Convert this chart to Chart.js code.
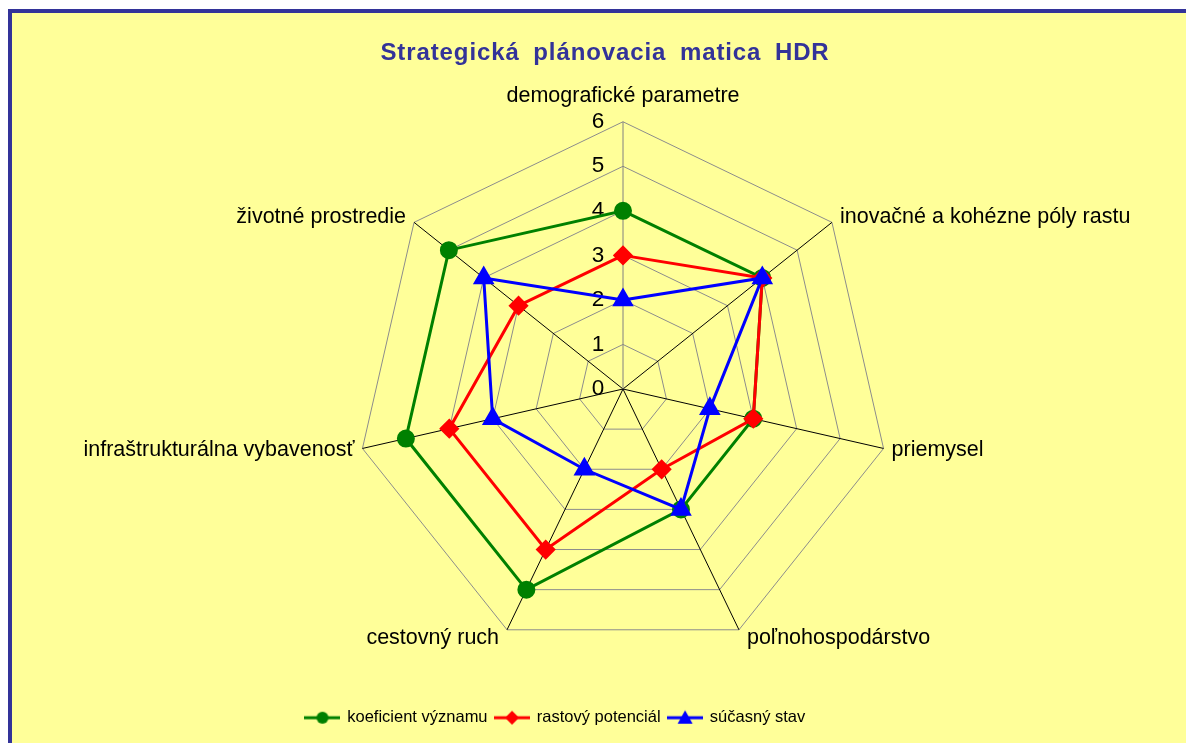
<!DOCTYPE html>
<html>
<head>
<meta charset="utf-8">
<script src="https://cdn.jsdelivr.net/npm/chart.js@4"></script>
<style>
  body { margin: 0; background: #fff; overflow: hidden; }
  #box {
    position: absolute; left: 8px; top: 9px;
    width: 1200px; height: 760px;
    border-left: 4px solid #333399; border-top: 4px solid #333399;
    background: #FFFF99;
  }
  #wrap { position: absolute; left: 0; top: 0; width: 1174px; height: 730px; }
</style>
</head>
<body>
<div id="box"><div id="wrap"><canvas id="radarChart"></canvas></div></div>
<script>
// kategórie (osi)
const kategorie = [
    'demografické parametre',
    'inovačné a kohézne póly rastu',
    'priemysel',
    'poľnohospodárstvo',
    'cestovný ruch',
    'infraštrukturálna vybavenosť',
    'životné prostredie'
];
// hodnoty sérií
const koeficientVyznamu = [4, 4, 3, 3, 5, 5, 5];
const rastovyPotencial = [3, 4, 3, 2, 4, 4, 3];
const sucasnyStav = [2, 4, 2, 3, 2, 3, 4];
const nazvySerii = ['koeficient významu', 'rastový potenciál', 'súčasný stav'];
const nadpis = 'Strategická plánovacia matica HDR';

const fontFamily = '"Liberation Sans", Arial, sans-serif';
const velkostPopisku = 21.5;

// ikona legendy: čiara so značkou
function legendIcon(color, shape) {
    const c = document.createElement('canvas');
    c.width = 36; c.height = 18;
    const g = c.getContext('2d');
    g.strokeStyle = color; g.fillStyle = color; g.lineWidth = 3;
    g.beginPath(); g.moveTo(0, 9); g.lineTo(36, 9); g.stroke();
    g.beginPath();
    if (shape === 'circle') {
        g.arc(18, 9, 6, 0, Math.PI * 2);
    } else if (shape === 'diamond') {
        g.moveTo(18, 2); g.lineTo(25, 9); g.lineTo(18, 16); g.lineTo(11, 9);
    } else {
        g.moveTo(18, 1.5); g.lineTo(25.5, 15); g.lineTo(10.5, 15);
    }
    g.closePath(); g.fill();
    return c;
}

const ikony = [
    legendIcon('#008000', 'circle'),
    legendIcon('#FF0000', 'diamond'),
    legendIcon('#0000FF', 'triangle')
];

// popisky osí umiestnené ako v Exceli (vedľa vrcholu, zvislo na stred)
const popiskyPlugin = {
    id: 'popisky',
    afterLayout(chart) {
        const scale = chart.scales.r;
        const items = scale._pointLabelItems;
        if (!items) return;
        const lh = velkostPopisku;
        items.forEach((item, i) => {
            const v = scale.getPointPosition(i, scale.drawingArea);
            const cos = (scale.yCenter - v.y) / scale.drawingArea;
            let cy;
            if (i === 0) {
                cy = v.y - 26;
                item.x = v.x;
                item.textAlign = 'center';
            } else {
                cy = v.y - 9 * cos;
                if (v.x > scale.xCenter) {
                    item.x = v.x + 8;
                    item.textAlign = 'left';
                } else {
                    item.x = v.x - 8;
                    item.textAlign = 'right';
                }
            }
            item.y = cy - lh / 2;
        });
    }
};

// nadpis
const nadpisPlugin = {
    id: 'nadpis',
    afterDraw(chart) {
        const ctx = chart.ctx;
        ctx.save();
        ctx.font = 'bold 24px ' + fontFamily;
        ctx.fillStyle = '#333399';
        ctx.textAlign = 'center';
        ctx.textBaseline = 'alphabetic';
        ctx.letterSpacing = '0.9px';
        ctx.wordSpacing = '6px';
        ctx.fillText(nadpis, 593, 47);
        ctx.restore();
    }
};

new Chart(document.getElementById('radarChart'), {
    type: 'radar',
    data: {
        labels: kategorie,
        datasets: [
            {
                label: nazvySerii[0],
                data: koeficientVyznamu,
                borderColor: '#008000',
                backgroundColor: '#008000',
                pointBackgroundColor: '#008000',
                pointBorderColor: '#008000',
                pointStyle: 'circle',
                pointRadius: 7.5,
                borderWidth: 3,
                fill: false,
                order: 3
            },
            {
                label: nazvySerii[1],
                data: rastovyPotencial,
                borderColor: '#FF0000',
                backgroundColor: '#FF0000',
                pointBackgroundColor: '#FF0000',
                pointBorderColor: '#FF0000',
                pointStyle: 'rectRot',
                pointRadius: 8,
                borderWidth: 3,
                fill: false,
                order: 2
            },
            {
                label: nazvySerii[2],
                data: sucasnyStav,
                borderColor: '#0000FF',
                backgroundColor: '#0000FF',
                pointBackgroundColor: '#0000FF',
                pointBorderColor: '#0000FF',
                pointStyle: 'triangle',
                pointRadius: 9.5,
                borderWidth: 3,
                fill: false,
                order: 1
            }
        ]
    },
    plugins: [popiskyPlugin, nadpisPlugin],
    options: {
        responsive: true,
        maintainAspectRatio: false,
        animation: false,
        elements: { line: { tension: 0 } },
        layout: { padding: { left: 37, right: 0, top: 52, bottom: 7 } },
        scales: {
            r: {
                min: -1e-9,
                max: 6,
                ticks: {
                    stepSize: 1,
                    showLabelBackdrop: false,
                    color: '#000',
                    font: { family: fontFamily, size: 22.5 },
                    callback: v => Math.round(v) + '        '
                },
                grid: { color: '#8c8c8c', lineWidth: 1, circular: false },
                angleLines: {
                    color: ctx => ctx.index === 0 ? '#808080' : '#000',
                    lineWidth: 1
                },
                pointLabels: {
                    color: '#000',
                    font: { family: fontFamily, size: velkostPopisku, lineHeight: 1 },
                    padding: 8
                }
            }
        },
        plugins: {
            title: { display: false },
            legend: {
                position: 'bottom',
                title: { display: true, text: '', padding: 0, font: { size: 15, lineHeight: 1 } },
                labels: {
                    color: '#000',
                    font: { family: fontFamily, size: 16.5 },
                    usePointStyle: true,
                    pointStyleWidth: 33,
                    padding: 8,
                    generateLabels: chart => chart.data.datasets.map((ds, i) => ({
                        text: i === 2 ? ds.label + ' '.repeat(27) : ds.label,
                        pointStyle: ikony[i],
                        fillStyle: ds.borderColor,
                        strokeStyle: ds.borderColor,
                        lineWidth: 0,
                        fontColor: '#000',
                        datasetIndex: i
                    }))
                }
            },
            tooltip: { enabled: false }
        }
    }
});
</script>
</body>
</html>
